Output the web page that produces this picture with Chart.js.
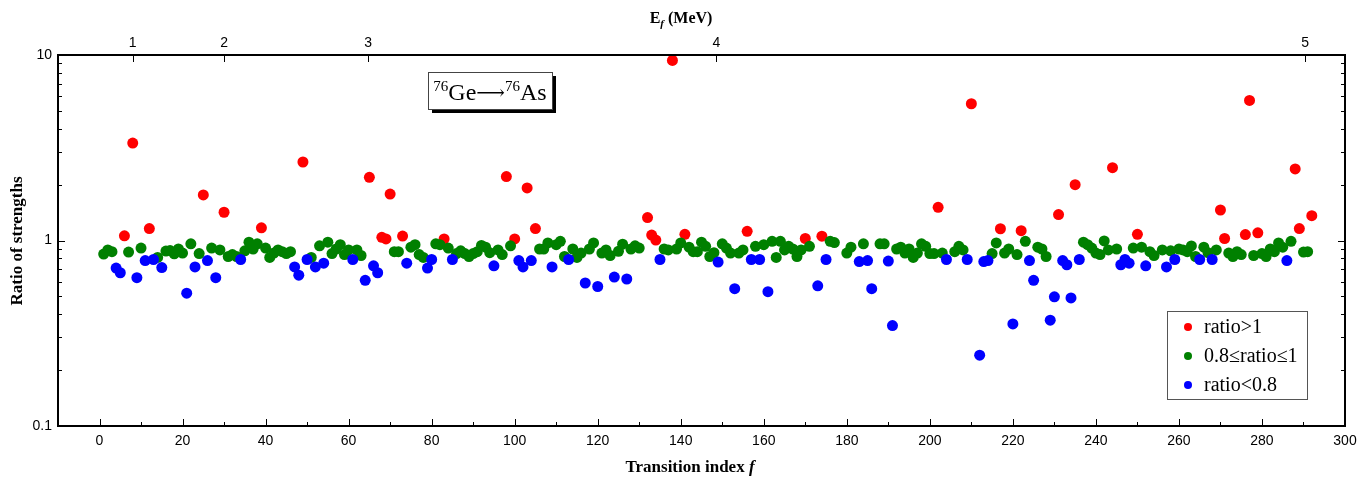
<!DOCTYPE html>
<html>
<head>
<meta charset="utf-8">
<script src="https://cdn.jsdelivr.net/npm/chart.js@4.4.1/dist/chart.umd.min.js"></script>
<style>
  html, body { margin: 0; padding: 0; background: #fff; }
  #wrap { width: 1370px; height: 479px; }
</style>
</head>
<body>
<div id="wrap"><canvas id="ratioChart" width="1370" height="479"></canvas></div>
<script>
// transition index f and the strength ratio for each transition
const transitionIndex = [
  1, 2, 3, 4, 5, 6, 7, 8, 9, 10, 11, 12, 13, 14, 15, 16, 17, 18, 19, 20,
  21, 22, 23, 24, 25, 26, 27, 28, 29, 30, 31, 32, 33, 34, 35, 36, 37, 38, 39, 40,
  41, 42, 43, 44, 45, 46, 47, 48, 49, 50, 51, 52, 53, 54, 55, 56, 57, 58, 59, 60,
  61, 62, 63, 64, 65, 66, 67, 68, 69, 70, 71, 72, 73, 74, 75, 76, 77, 78, 79, 80,
  81, 82, 83, 84, 85, 86, 87, 88, 89, 90, 91, 92, 93, 94, 95, 96, 97, 98, 99, 100,
  101, 102, 103, 104, 105, 106, 107, 108, 109, 110, 111, 112, 113, 114, 115, 116, 117, 118, 119, 120,
  121, 122, 123, 124, 125, 126, 127, 128, 129, 130, 132, 133, 134, 135, 136, 137, 138, 139, 140,
  141, 142, 143, 144, 145, 146, 147, 148, 149, 150, 151, 152, 153, 154, 155, 156, 157, 158, 159, 160,
  161, 162, 163, 164, 165, 166, 167, 168, 169, 170, 171, 173, 174, 175, 176, 177, 180,
  181, 183, 184, 185, 186, 188, 189, 190, 191, 192, 193, 194, 195, 196, 197, 198, 199, 200,
  201, 202, 203, 204, 206, 207, 208, 209, 210, 212, 213, 214, 215, 216, 217, 218, 219, 220,
  221, 222, 223, 224, 225, 226, 227, 228, 229, 230, 231, 232, 233, 234, 235, 236, 237, 238, 239, 240,
  241, 242, 243, 244, 245, 246, 247, 248, 249, 250, 251, 252, 253, 254, 256, 257, 258, 259, 260,
  261, 262, 263, 264, 265, 266, 267, 268, 269, 270, 271, 272, 273, 274, 275, 276, 277, 278, 279, 280,
  281, 282, 283, 284, 285, 286, 287, 288, 289, 290, 291, 292
];
const strengthRatio = [
  0.845, 0.89, 0.87, 0.71, 0.67, 1.06, 0.866, 3.35, 0.63, 0.91, 0.78, 1.16, 0.79, 0.81, 0.715, 0.877, 0.883, 0.848, 0.90, 0.855,
  0.52, 0.96, 0.72, 0.85, 1.76, 0.78, 0.91, 0.63, 0.89, 1.42, 0.82, 0.84, 0.82, 0.79, 0.88, 0.98, 0.90, 0.96, 1.17, 0.91,
  0.81, 0.855, 0.89, 0.87, 0.85, 0.87, 0.72, 0.65, 2.65, 0.79, 0.81, 0.72, 0.936, 0.755, 0.98, 0.85, 0.90, 0.95, 0.84, 0.89,
  0.79, 0.89, 0.83, 0.61, 2.19, 0.73, 0.67, 1.04, 1.02, 1.78, 0.87, 0.87, 1.056, 0.755, 0.92, 0.95, 0.84, 0.81, 0.71, 0.79,
  0.96, 0.95, 1.02, 0.91, 0.79, 0.85, 0.88, 0.85, 0.82, 0.85, 0.87, 0.94, 0.92, 0.86, 0.73, 0.89, 0.84, 2.21, 0.936, 1.02,
  0.78, 0.72, 1.92, 0.78, 1.16, 0.90, 0.90, 0.97, 0.72, 0.95, 0.99, 0.82, 0.79, 0.90, 0.81, 0.855, 0.59, 0.90, 0.97, 0.565,
  0.855, 0.89, 0.83, 0.635, 0.875, 0.956, 0.62, 0.90, 0.936, 0.91, 1.33, 1.07, 1.005, 0.79, 0.90, 0.89, 9.35, 0.90, 0.97,
  1.08, 0.92, 0.87, 0.87, 0.98, 0.93, 0.82, 0.86, 0.765, 0.96, 0.91, 0.855, 0.55, 0.855, 0.89, 1.12, 0.79, 0.93, 0.79, 0.95,
  0.53, 0.99, 0.81, 0.99, 0.89, 0.93, 0.90, 0.82, 0.89, 1.025, 0.93, 0.57, 1.055, 0.79, 0.99, 0.975, 0.855,
  0.92, 0.77, 0.96, 0.78, 0.55, 0.96, 0.96, 0.775, 0.348, 0.90, 0.92, 0.855, 0.90, 0.81, 0.855, 0.96, 0.93, 0.85,
  0.85, 1.51, 0.855, 0.79, 0.87, 0.93, 0.89, 0.79, 5.46, 0.241, 0.77, 0.78, 0.85, 0.97, 1.157, 0.855, 0.90, 0.355,
  0.84, 1.13, 0.99, 0.78, 0.61, 0.92, 0.90, 0.82, 0.372, 0.497, 1.38, 0.78, 0.74, 0.49, 2.0, 0.79, 0.98, 0.95, 0.91, 0.855,
  0.84, 0.995, 0.89, 2.47, 0.90, 0.74, 0.79, 0.755, 0.91, 1.08, 0.92, 0.73, 0.87, 0.83, 0.89, 0.72, 0.88, 0.79, 0.90,
  0.89, 0.87, 0.935, 0.82, 0.79, 0.92, 0.86, 0.79, 0.89, 1.46, 1.025, 0.855, 0.82, 0.87, 0.84, 1.077, 5.69, 0.83, 1.10, 0.85,
  0.82, 0.90, 0.87, 0.97, 0.92, 0.78, 0.99, 2.43, 1.16, 0.866, 0.87, 1.36
];

const indexTicks = [0, 20, 40, 60, 80, 100, 120, 140, 160, 180, 200, 220, 240, 260, 280, 300];
const ratioTicks = [0.1, 1, 10];
// excitation energy E_f (MeV) and the transition index where it falls
const energyLabels = [1, 2, 3, 4, 5];
const energyTickIndex = [8, 30, 64.7, 148.6, 290.4];

const groups = [
  { label: 'ratio>1', color: '#ff0000', order: 2, test: r => r > 1 },
  { label: '0.8\u2264ratio\u22641', color: '#008000', order: 1, test: r => r >= 0.8 && r <= 1 },
  { label: 'ratio<0.8', color: '#0000ff', order: 0, test: r => r < 0.8 }
];

const datasets = groups.map(g => ({
  label: g.label,
  order: g.order,
  data: transitionIndex
    .map((f, i) => ({ x: f, y: strengthRatio[i] }))
    .filter(p => g.test(p.y)),
  backgroundColor: g.color,
  borderWidth: 0,
  pointRadius: 5.5,
  showLine: false
}));

const SERIF = '"Liberation Serif", "Times New Roman", serif';
const SANS = '"Liberation Sans", Arial, sans-serif';

// inward tick marks and the black frame round the plot
const frameTicks = {
  id: 'frameTicks',
  afterDraw(chart) {
    const { ctx, chartArea: a, scales } = chart;
    const x = scales.x, y = scales.y;
    ctx.save();
    ctx.strokeStyle = '#000';
    ctx.lineWidth = 1;
    ctx.beginPath();
    for (let v = 0; v < 300; v += 10) {
      const px = Math.round(x.getPixelForValue(v)) + 0.5;
      const len = v % 20 === 0 ? 7 : 4;
      ctx.moveTo(px, a.bottom);
      ctx.lineTo(px, a.bottom - len);
    }
    energyTickIndex.forEach(v => {
      const px = Math.round(x.getPixelForValue(v)) + 0.5;
      ctx.moveTo(px, a.top);
      ctx.lineTo(px, a.top + 7);
    });
    [0.1, 1].forEach(dec => {
      for (let k = 1; k <= 9; k++) {
        const v = dec * k;
        if (v <= 0.1 || v >= 10) continue;
        const py = Math.round(y.getPixelForValue(v)) + 0.5;
        const len = k === 1 ? 7 : 4;
        ctx.moveTo(a.left, py);
        ctx.lineTo(a.left + len, py);
        ctx.moveTo(a.right, py);
        ctx.lineTo(a.right - len, py);
      }
    });
    ctx.stroke();
    ctx.lineWidth = 2;
    ctx.strokeRect(a.left, a.top, a.right - a.left, a.bottom - a.top);
    ctx.restore();
  }
};

// axis titles, the reaction label and the legend box
const decorations = {
  id: 'decorations',
  afterDraw(chart) {
    const { ctx } = chart;
    ctx.save();
    ctx.fillStyle = '#000';
    ctx.textBaseline = 'alphabetic';

    // left title
    ctx.save();
    ctx.translate(22, 241);
    ctx.rotate(-Math.PI / 2);
    ctx.font = 'bold 17px ' + SERIF;
    ctx.textAlign = 'center';
    ctx.fillText('Ratio of strengths', 0, 0);
    ctx.restore();

    // bottom title
    ctx.textAlign = 'left';
    ctx.font = 'bold 17px ' + SERIF;
    const t1 = 'Transition index ';
    const w1 = ctx.measureText(t1).width;
    ctx.font = 'bold italic 17px ' + SERIF;
    const w2 = ctx.measureText('f').width;
    let sx = 690 - (w1 + w2) / 2;
    ctx.font = 'bold 17px ' + SERIF;
    ctx.fillText(t1, sx, 472);
    ctx.font = 'bold italic 17px ' + SERIF;
    ctx.fillText('f', sx + w1, 472);

    // top title
    ctx.font = 'bold 16px ' + SERIF;
    const eW = ctx.measureText('E').width;
    const mW = ctx.measureText(' (MeV)').width;
    ctx.font = 'bold italic 11px ' + SERIF;
    const fW = ctx.measureText('f').width;
    sx = 681 - (eW + fW + mW) / 2;
    ctx.font = 'bold 16px ' + SERIF;
    ctx.fillText('E', sx, 23);
    ctx.font = 'bold italic 11px ' + SERIF;
    ctx.fillText('f', sx + eW, 27);
    ctx.font = 'bold 16px ' + SERIF;
    ctx.fillText(' (MeV)', sx + eW + fW, 23);

    // reaction label with drop shadow
    const bx = 428, by = 72, bw = 124, bh = 37;
    ctx.fillStyle = '#000';
    ctx.fillRect(bx + 4, by + 4, bw, bh);
    ctx.fillStyle = '#fff';
    ctx.fillRect(bx, by, bw, bh);
    ctx.strokeStyle = '#444';
    ctx.lineWidth = 1;
    ctx.strokeRect(bx + 0.5, by + 0.5, bw, bh);
    const parts = [
      { t: '76', f: '15px ' + SERIF, dy: -9 },
      { t: 'Ge', f: '24px ' + SERIF, dy: 0 },
      { t: '\u27F6', f: '20px "DejaVu Serif", ' + SERIF, dy: -1 },
      { t: '76', f: '15px ' + SERIF, dy: -9 },
      { t: 'As', f: '24px ' + SERIF, dy: 0 }
    ];
    let total = 0;
    parts.forEach(p => { ctx.font = p.f; p.w = ctx.measureText(p.t).width; total += p.w; });
    let px = bx + (bw - total) / 2;
    ctx.fillStyle = '#000';
    parts.forEach(p => { ctx.font = p.f; ctx.fillText(p.t, px, 100 + p.dy); px += p.w; });

    // legend
    const lx = 1167, ly = 311, lw = 140, lh = 88;
    ctx.fillStyle = '#fff';
    ctx.fillRect(lx, ly, lw, lh);
    ctx.strokeStyle = '#555';
    ctx.strokeRect(lx + 0.5, ly + 0.5, lw, lh);
    ctx.font = '20px ' + SERIF;
    ctx.textBaseline = 'middle';
    chart.data.datasets.forEach((ds, i) => {
      const cy = 327 + i * 29;
      ctx.fillStyle = ds.backgroundColor;
      ctx.beginPath();
      ctx.arc(1188, cy, 4, 0, Math.PI * 2);
      ctx.fill();
      ctx.fillStyle = '#000';
      ctx.fillText(ds.label, 1204, cy + 1);
    });
    ctx.restore();
  }
};

new Chart(document.getElementById('ratioChart'), {
  type: 'scatter',
  data: { datasets },
  options: {
    responsive: false,
    animation: false,
    devicePixelRatio: 1,
    layout: { padding: { left: 0, right: 25, top: 0, bottom: 0 } },
    plugins: {
      legend: { display: false },
      tooltip: { enabled: false }
    },
    scales: {
      x: {
        type: 'linear',
        position: 'bottom',
        min: -10,
        max: 300,
        afterBuildTicks: s => { s.ticks = indexTicks.map(v => ({ value: v })); },
        afterFit: s => { s.height = 53; },
        ticks: { autoSkip: false, maxRotation: 0, color: '#000', padding: 7, font: { family: SANS, size: 14 } },
        grid: { display: false, drawTicks: false },
        border: { display: false }
      },
      xTop: {
        type: 'linear',
        position: 'top',
        min: -10,
        max: 300,
        afterBuildTicks: s => { s.ticks = energyTickIndex.map(v => ({ value: v })); },
        afterFit: s => { s.height = 55; },
        ticks: {
          autoSkip: false, maxRotation: 0, color: '#000', padding: 3,
          font: { family: SANS, size: 14 },
          callback: (v, i) => energyLabels[i]
        },
        grid: { display: false, drawTicks: false },
        border: { display: false }
      },
      y: {
        type: 'logarithmic',
        position: 'left',
        min: 0.1,
        max: 10,
        afterBuildTicks: s => { s.ticks = ratioTicks.map(v => ({ value: v })); },
        afterFit: s => { s.width = 58; },
        ticks: {
          autoSkip: false, color: '#000', padding: 6,
          font: { family: SANS, size: 14 },
          callback: v => String(v)
        },
        grid: { display: false, drawTicks: false },
        border: { display: false }
      }
    }
  },
  plugins: [frameTicks, decorations]
});
</script>
</body>
</html>
